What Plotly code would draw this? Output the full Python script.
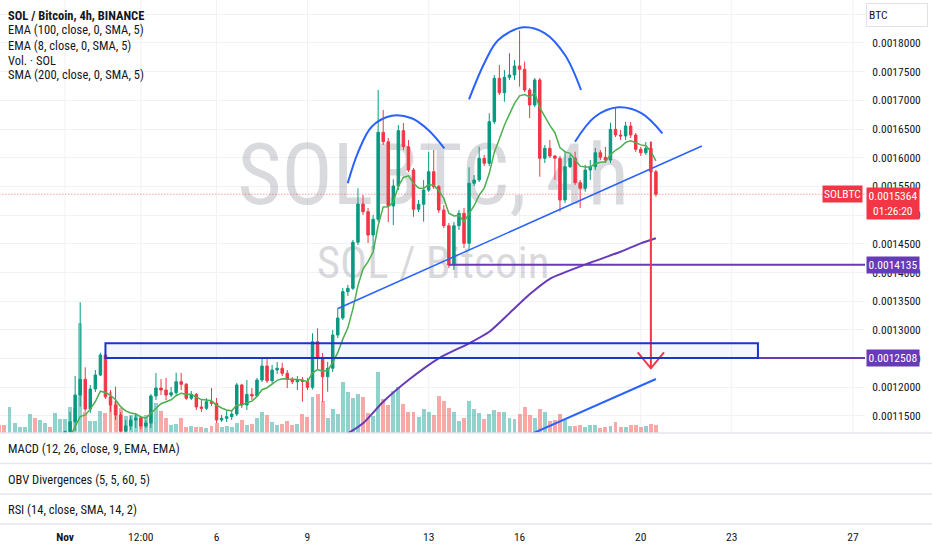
import pandas as pd
import plotly.graph_objects as go

# SOL / BTC, 4h candles from 2023-10-29 20:00 to 2023-11-20 12:00
candle_open = [
    0.0010860, 0.0010840, 0.0010810, 0.0010880, 0.0010905, 0.0010915, 0.0010930, 0.0010990, 0.0010950, 0.0011000,
    0.0011030, 0.0011010, 0.0011090, 0.0011130, 0.0011225, 0.0011399, 0.0011864, 0.0012138, 0.0011620, 0.0011969,
    0.0012213, 0.0012561, 0.0011829, 0.0011690, 0.0011516, 0.0011237, 0.0011324, 0.0011428, 0.0011463, 0.0011324,
    0.0011376, 0.0011847, 0.0011986, 0.0011951, 0.0011864, 0.0011904, 0.0012096, 0.0012051, 0.0011807, 0.0011876,
    0.0011655, 0.0011633, 0.0011747, 0.0011719, 0.0011428, 0.0011458, 0.0011486, 0.0011533, 0.0012039, 0.0011690,
    0.0011876, 0.0011847, 0.0012126, 0.0012370, 0.0012113, 0.0012300, 0.0012330, 0.0012242, 0.0012138, 0.0012096,
    0.0012126, 0.0012100, 0.0011998, 0.0012793, 0.0012504, 0.0012183, 0.0012330, 0.0012910, 0.0013206, 0.0013665,
    0.0013724, 0.0014526, 0.0015193, 0.0015059, 0.0014653, 0.0014927, 0.0016443, 0.0016279, 0.0015159, 0.0015507,
    0.0016471, 0.0016192, 0.0015786, 0.0015101, 0.0015188, 0.0015437, 0.0015756, 0.0015495, 0.0015089, 0.0014815,
    0.0014130, 0.0014815, 0.0015031, 0.0014508, 0.0015554, 0.0015612, 0.0015990, 0.0015903, 0.0016628, 0.0017384,
    0.0017133, 0.0017402, 0.0017442, 0.0017599, 0.0017541, 0.0017180, 0.0016919, 0.0017355, 0.0015990, 0.0016164,
    0.0016030, 0.0015990, 0.0015263, 0.0015844, 0.0015990, 0.0015565, 0.0015467, 0.0015786, 0.0015844, 0.0016087,
    0.0016007, 0.0015960, 0.0016495, 0.0016396, 0.0016379, 0.0016553, 0.0016396, 0.0016147, 0.0016087, 0.0016164,
    0.0015756,
]
candle_high = [
    0.0010890, 0.0010860, 0.0010900, 0.0010920, 0.0010930, 0.0010940, 0.0011010, 0.0011000, 0.0011010, 0.0011040,
    0.0011040, 0.0011100, 0.0011140, 0.0011240, 0.0011573, 0.0012195, 0.0013480, 0.0012347, 0.0012039, 0.0012300,
    0.0012601, 0.0012596, 0.0011951, 0.0012009, 0.0011568, 0.0011428, 0.0011498, 0.0011550, 0.0011498, 0.0011428,
    0.0011882, 0.0012248, 0.0012143, 0.0012161, 0.0012004, 0.0012253, 0.0012248, 0.0012073, 0.0011934, 0.0011899,
    0.0011777, 0.0011812, 0.0011986, 0.0011812, 0.0011516, 0.0011603, 0.0011603, 0.0012073, 0.0012060, 0.0012126,
    0.0011986, 0.0012161, 0.0012509, 0.0012504, 0.0012387, 0.0012439, 0.0012427, 0.0012300, 0.0012178, 0.0012195,
    0.0012178, 0.0012161, 0.0012940, 0.0013027, 0.0012596, 0.0012439, 0.0012997, 0.0013381, 0.0013729, 0.0013782,
    0.0014566, 0.0015467, 0.0015350, 0.0015124, 0.0015002, 0.0017180, 0.0016832, 0.0016344, 0.0015624, 0.0016570,
    0.0016605, 0.0016309, 0.0015821, 0.0015263, 0.0015612, 0.0016105, 0.0016134, 0.0015525, 0.0015176, 0.0014862,
    0.0014880, 0.0015089, 0.0015124, 0.0015833, 0.0015699, 0.0016192, 0.0016048, 0.0016774, 0.0017442, 0.0017616,
    0.0017529, 0.0017820, 0.0017703, 0.0018214, 0.0017674, 0.0017215, 0.0017390, 0.0017390, 0.0016222, 0.0016309,
    0.0016048, 0.0016030, 0.0016123, 0.0016048, 0.0016105, 0.0015612, 0.0015873, 0.0015960, 0.0016169, 0.0016134,
    0.0016187, 0.0016610, 0.0016879, 0.0016483, 0.0016628, 0.0016622, 0.0016431, 0.0016187, 0.0016274, 0.0016279,
    0.0015790,
]
candle_low = [
    0.0010820, 0.0010790, 0.0010800, 0.0010860, 0.0010890, 0.0010900, 0.0010920, 0.0010930, 0.0010940, 0.0010980,
    0.0011000, 0.0011000, 0.0011070, 0.0011120, 0.0011190, 0.0011237, 0.0011660, 0.0011573, 0.0011550, 0.0011917,
    0.0012195, 0.0011794, 0.0011568, 0.0011428, 0.0011202, 0.0011190, 0.0011254, 0.0011289, 0.0011272, 0.0011289,
    0.0011289, 0.0011777, 0.0011864, 0.0011777, 0.0011829, 0.0011864, 0.0011951, 0.0011777, 0.0011777, 0.0011603,
    0.0011568, 0.0011603, 0.0011672, 0.0011376, 0.0011393, 0.0011393, 0.0011428, 0.0011498, 0.0011638, 0.0011603,
    0.0011777, 0.0011830, 0.0012091, 0.0012073, 0.0012073, 0.0012230, 0.0012195, 0.0011986, 0.0012056, 0.0011951,
    0.0011747, 0.0011951, 0.0011960, 0.0012300, 0.0011747, 0.0011922, 0.0012265, 0.0012858, 0.0013172, 0.0013590,
    0.0013694, 0.0014479, 0.0015002, 0.0014514, 0.0014392, 0.0014880, 0.0016222, 0.0014880, 0.0014827, 0.0015437,
    0.0016134, 0.0015751, 0.0014972, 0.0015054, 0.0014885, 0.0015403, 0.0015455, 0.0015037, 0.0014775, 0.0014078,
    0.0014043, 0.0014740, 0.0014427, 0.0014392, 0.0015507, 0.0015577, 0.0015856, 0.0015856, 0.0016588, 0.0017093,
    0.0016976, 0.0017355, 0.0017355, 0.0017238, 0.0017146, 0.0016692, 0.0016884, 0.0015669, 0.0015908, 0.0015995,
    0.0015612, 0.0015059, 0.0015211, 0.0015821, 0.0015525, 0.0015124, 0.0015408, 0.0015612, 0.0015786, 0.0015960,
    0.0015908, 0.0015908, 0.0016361, 0.0016309, 0.0016309, 0.0016344, 0.0016100, 0.0016030, 0.0016048, 0.0015699,
    0.0015321,
]
candle_close = [
    0.0010840, 0.0010810, 0.0010880, 0.0010905, 0.0010915, 0.0010930, 0.0010990, 0.0010950, 0.0011000, 0.0011030,
    0.0011010, 0.0011090, 0.0011130, 0.0011225, 0.0011399, 0.0011864, 0.0012138, 0.0011620, 0.0011969, 0.0012213,
    0.0012561, 0.0011829, 0.0011690, 0.0011516, 0.0011237, 0.0011324, 0.0011428, 0.0011463, 0.0011324, 0.0011376,
    0.0011847, 0.0011986, 0.0011951, 0.0011864, 0.0011904, 0.0012096, 0.0012051, 0.0011807, 0.0011876, 0.0011655,
    0.0011633, 0.0011747, 0.0011719, 0.0011428, 0.0011458, 0.0011486, 0.0011533, 0.0012039, 0.0011690, 0.0011876,
    0.0011847, 0.0012126, 0.0012370, 0.0012113, 0.0012300, 0.0012330, 0.0012242, 0.0012138, 0.0012096, 0.0012126,
    0.0012100, 0.0011998, 0.0012793, 0.0012504, 0.0012183, 0.0012330, 0.0012910, 0.0013206, 0.0013665, 0.0013724,
    0.0014526, 0.0015193, 0.0015059, 0.0014653, 0.0014927, 0.0016443, 0.0016279, 0.0015159, 0.0015507, 0.0016471,
    0.0016192, 0.0015786, 0.0015101, 0.0015188, 0.0015437, 0.0015756, 0.0015495, 0.0015089, 0.0014815, 0.0014130,
    0.0014815, 0.0015031, 0.0014508, 0.0015554, 0.0015612, 0.0015990, 0.0015903, 0.0016628, 0.0017384, 0.0017133,
    0.0017402, 0.0017442, 0.0017599, 0.0017541, 0.0017180, 0.0016919, 0.0017355, 0.0015990, 0.0016164, 0.0016030,
    0.0015990, 0.0015263, 0.0015844, 0.0015990, 0.0015565, 0.0015467, 0.0015786, 0.0015844, 0.0016087, 0.0016007,
    0.0015960, 0.0016495, 0.0016396, 0.0016379, 0.0016553, 0.0016396, 0.0016147, 0.0016087, 0.0016164, 0.0015756,
    0.0015364,
]
# volume in thousands of SOL
volume = [
    8, 8, 26, 10, 6, 6, 19, 15, 13, 10, 6, 20, 14, 14, 26, 25, 110, 21, 12, 12,
    22, 20, 41, 32, 25, 17, 18, 18, 16, 18, 23, 30, 22, 15, 8, 9, 14.7, 6.3, 7, 6.3,
    6.3, 4.7, 7, 10.3, 6.3, 7, 6.3, 10.3, 13, 8, 8.7, 14.7, 20.7, 18, 11.3, 8, 8.7, 12, 8, 8.7,
    19, 16.3, 36.3, 39, 32.3, 15.3, 24, 19, 50.7, 40.7, 35.3, 38.7, 35.7, 19.7, 17.3, 60.7, 34, 28, 42.3, 46.3,
    29, 20.7, 20.7, 16.3, 23.7, 20.7, 18, 37.3, 32.3, 24.7, 20.7, 12, 14.7, 32.3, 24, 20.3, 14, 18.7, 23, 20.7,
    20.7, 15.3, 14, 19, 25.7, 18, 15.3, 24, 20.7, 12, 13, 18.7, 13, 7.3, 7, 8, 5.7, 8, 8, 4.7,
    5.7, 7, 11, 6, 6, 8, 8, 6, 7, 9, 8,
]

# EMA 100 (purple) and SMA 200 (blue), read at a few bars (bar index, value)
ema100_bar = [60, 69, 72, 76, 81, 87, 93, 97, 101, 105, 109, 117, 123, 127, 130]
ema100_val = [0.0010850, 0.0011197, 0.0011371, 0.0011747, 0.0012126, 0.0012504, 0.0012765, 0.0012967,
              0.0013290, 0.0013620, 0.0013890, 0.0014170, 0.0014362, 0.0014508, 0.0014596]
sma200_bar = [100, 115, 130]
sma200_val = [0.0010977, 0.0011560, 0.0012143]

# drawings: head & shoulders arcs, neckline, target
left_shoulder_bar = [68.97, 71.07, 73.72, 77.68, 81.64, 84.93, 88.10]
left_shoulder_val = [0.0015554, 0.0016105, 0.0016541, 0.0016732, 0.0016687, 0.0016483, 0.0016164]
head_bar = [92.99, 96.16, 98.79, 103.74, 108.04, 112.0, 115.17]
head_val = [0.0017018, 0.0017674, 0.0018052, 0.0018273, 0.0018169, 0.0017790, 0.0017180]
right_shoulder_bar = [113.98, 117.94, 122.56, 127.19, 131.27]
right_shoulder_val = [0.0016279, 0.0016715, 0.0016879, 0.0016774, 0.0016426]
neckline_bar = [67.05, 139.1]
neckline_val = [0.0013372, 0.0016204]
arrow_bar = 129
arrow_from, arrow_to = 0.0016279, 0.0012330
zone_bar = [21, 150.2]
zone_val = [0.0012508, 0.0012765]
level_1, level_1_bar = 0.0014135, 89
level_2, level_2_bar = 0.0012508, 150.2
last_price = 0.0015364

tick_times = ["2023-11-01 00:00", "2023-11-03 12:00", "2023-11-06", "2023-11-09", "2023-11-13",
              "2023-11-16", "2023-11-20", "2023-11-23", "2023-11-27"]
tick_text = ["<b>Nov</b>", "12:00", "6", "9", "13", "16", "20", "23", "27"]

FONT = "Roboto Condensed, Roboto, sans-serif"
INK = "#131722"
UP, DOWN = "#089981", "#f23645"
BLUE, PURPLE = "#2962ff", "#673ab7"
PLOT_W, PLOT_H = 865, 532

start = pd.Timestamp("2023-10-29 20:00")
step = pd.Timedelta(hours=4)


def at(k):
    return start + step * k


def px(x):
    return x / PLOT_W


def py(y):
    return (PLOT_H - y) / PLOT_H


times = [at(k) for k in range(len(candle_close))]
vol_colors = ["rgba(38,166,154,0.5)" if c >= o else "rgba(239,83,80,0.5)"
              for o, c in zip(candle_open, candle_close)]
ema8 = pd.Series(candle_close).ewm(span=8, adjust=False).mean()
x_end = at(171.4)

fig = go.Figure()

# watermark (volume axis is in pixel-like units, so it sits under everything)
fig.add_trace(go.Scatter(x=[at(85.9), at(85.9)], y=[250, 166], mode="text",
                         text=["SOLBTC, 4h", "SOL / Bitcoin"],
                         textfont=dict(family=FONT, size=[85, 45], color="rgba(120,123,134,0.28)"),
                         hoverinfo="skip", showlegend=False))
fig.add_trace(go.Bar(x=times, y=volume, marker_color=vol_colors, marker_line_width=0,
                     width=step.total_seconds() * 1000 * 0.78, hoverinfo="skip", showlegend=False))

fig.add_trace(go.Scatter(x=[at(k) for k in ema100_bar], y=ema100_val, yaxis="y2", mode="lines",
                         line=dict(color=PURPLE, width=2, shape="spline", smoothing=0.6),
                         hoverinfo="skip", showlegend=False))
fig.add_trace(go.Scatter(x=[at(k) for k in sma200_bar], y=sma200_val, yaxis="y2", mode="lines",
                         line=dict(color=BLUE, width=2), hoverinfo="skip", showlegend=False))
fig.add_trace(go.Candlestick(x=times, open=candle_open, high=candle_high, low=candle_low, close=candle_close,
                             yaxis="y2", whiskerwidth=0,
                             increasing=dict(line=dict(color=UP, width=1), fillcolor=UP),
                             decreasing=dict(line=dict(color=DOWN, width=1), fillcolor=DOWN),
                             hoverinfo="skip", showlegend=False))
fig.add_trace(go.Scatter(x=times, y=ema8, yaxis="y2", mode="lines",
                         line=dict(color="#4caf50", width=1.5), hoverinfo="skip", showlegend=False))

for bars, vals in [(left_shoulder_bar, left_shoulder_val), (head_bar, head_val),
                   (right_shoulder_bar, right_shoulder_val)]:
    fig.add_trace(go.Scatter(x=[at(k) for k in bars], y=vals, yaxis="y2", mode="lines",
                             line=dict(color=BLUE, width=2, shape="spline"), hoverinfo="skip", showlegend=False))
fig.add_trace(go.Scatter(x=[at(k) for k in neckline_bar], y=neckline_val, yaxis="y2", mode="lines",
                         line=dict(color=BLUE, width=1.5), hoverinfo="skip", showlegend=False))

# horizontal levels
fig.add_trace(go.Scatter(x=[at(level_1_bar), x_end], y=[level_1, level_1], yaxis="y2", mode="lines",
                         line=dict(color=PURPLE, width=2), hoverinfo="skip", showlegend=False))
fig.add_trace(go.Scatter(x=[at(level_2_bar), x_end], y=[level_2, level_2], yaxis="y2", mode="lines",
                         line=dict(color=PURPLE, width=2), hoverinfo="skip", showlegend=False))
fig.add_trace(go.Scatter(x=[at(0), x_end], y=[last_price, last_price], yaxis="y2", mode="lines",
                         line=dict(color="rgba(242,54,69,0.7)", width=1, dash="1px,2px"),
                         hoverinfo="skip", showlegend=False))

# target arrow
head_drop = (arrow_from - arrow_to) * 0.07
fig.add_trace(go.Scatter(x=[at(arrow_bar), at(arrow_bar), None, at(arrow_bar - 2.6), at(arrow_bar), at(arrow_bar + 2.6)],
                         y=[arrow_from, arrow_to, None, arrow_to + head_drop, arrow_to, arrow_to + head_drop],
                         yaxis="y2", mode="lines", line=dict(color=DOWN, width=2),
                         hoverinfo="skip", showlegend=False))

shapes = [
    dict(type="rect", xref="x", yref="y2", x0=at(zone_bar[0]), x1=at(zone_bar[1]),
         y0=zone_val[0], y1=zone_val[1], line=dict(color="#1a35c8", width=2),
         fillcolor="rgba(41,98,255,0.05)"),
]
for t in tick_times:
    shapes.append(dict(type="line", xref="x", yref="paper", x0=t, x1=t, y0=py(433), y1=1,
                       line=dict(color="#f0f2f6", width=1), layer="below"))
for y in [433, 463.5, 494, 524]:
    shapes.append(dict(type="line", xref="paper", yref="paper", x0=0, x1=932 / PLOT_W, y0=py(y), y1=py(y),
                       line=dict(color="#e4e6ed", width=1.5)))

annotations = []
legend_lines = ["<b>SOL / Bitcoin, 4h, BINANCE</b>", "EMA (100, close, 0, SMA, 5)", "EMA (8, close, 0, SMA, 5)",
                "Vol. · SOL", "SMA (200, close, 0, SMA, 5)"]
for i, txt in enumerate(legend_lines):
    annotations.append(dict(text=txt, xref="paper", yref="paper", x=px(6), y=py(15 + 15 * i),
                            xanchor="left", yanchor="middle", showarrow=False,
                            font=dict(family=FONT, size=12.5, color=INK)))
for txt, y in [("MACD (12, 26, close, 9, EMA, EMA)", 448), ("OBV Divergences (5, 5, 60, 5)", 479),
               ("RSI (14, close, SMA, 14, 2)", 509)]:
    annotations.append(dict(text=txt, xref="paper", yref="paper", x=px(6), y=py(y),
                            xanchor="left", yanchor="middle", showarrow=False,
                            font=dict(family=FONT, size=12.5, color=INK)))

annotations += [
    dict(text="BTC", xref="paper", yref="paper", x=px(866), y=py(3), xanchor="left", yanchor="top",
         width=56, height=18, align="left", borderpad=2, bordercolor="#e0e3eb", borderwidth=1,
         bgcolor="white", showarrow=False, font=dict(family=FONT, size=11.5, color=INK)),
    dict(text="SOLBTC", xref="paper", yref="y2", x=px(863), y=last_price, xanchor="right",
         yanchor="middle", bgcolor=DOWN, borderpad=1, showarrow=False,
         font=dict(family=FONT, size=11.5, color="white")),
    dict(text="0.0015364<br>01:26:20", xref="paper", yref="y2", x=px(866), y=last_price, xanchor="left",
         yanchor="top", yshift=7, width=50, align="center", bgcolor=DOWN, borderpad=1, showarrow=False,
         font=dict(family=FONT, size=11.5, color="white")),
    dict(text="0.0014135", xref="paper", yref="y2", x=px(866), y=level_1, xanchor="left",
         yanchor="middle", width=50, align="center", bgcolor=PURPLE, borderpad=1, showarrow=False,
         font=dict(family=FONT, size=11.5, color="white")),
    dict(text="0.0012508", xref="paper", yref="y2", x=px(866), y=level_2, xanchor="left",
         yanchor="middle", width=50, align="center", bgcolor=PURPLE, borderpad=1, showarrow=False,
         font=dict(family=FONT, size=11.5, color="white")),
]

fig.update_layout(
    width=932, height=550,
    margin=dict(l=0, r=932 - PLOT_W, t=0, b=550 - PLOT_H),
    paper_bgcolor="white", plot_bgcolor="white",
    font=dict(family=FONT, size=11.5, color=INK),
    showlegend=False, bargap=0,
    xaxis=dict(type="date", range=[at(0.12), x_end], anchor="free", position=py(528),
               tickvals=tick_times, ticktext=tick_text, showgrid=False, zeroline=False,
               ticks="", showline=False,
               rangeslider=dict(visible=False), tickfont=dict(family=FONT, size=11.5, color=INK)),
    yaxis=dict(domain=[py(433), 1], range=[0, 433], visible=False, fixedrange=True),
    yaxis2=dict(overlaying="y", side="right", range=[0.0011202, 0.0018749], dtick=0.00005,
                tickformat=".7f", showgrid=True, gridcolor="#f0f2f6", zeroline=False,
                ticks="outside", ticklen=4, tickcolor="white", showline=False,
                tickfont=dict(family=FONT, size=11.5, color=INK)),
    shapes=shapes,
    annotations=annotations,
)

# the page's default 8px body margin would shift the 932x550 figure out of the window
fig.write_html("out.html", config={"displayModeBar": False},
               post_script="document.body.style.margin = '0';")
